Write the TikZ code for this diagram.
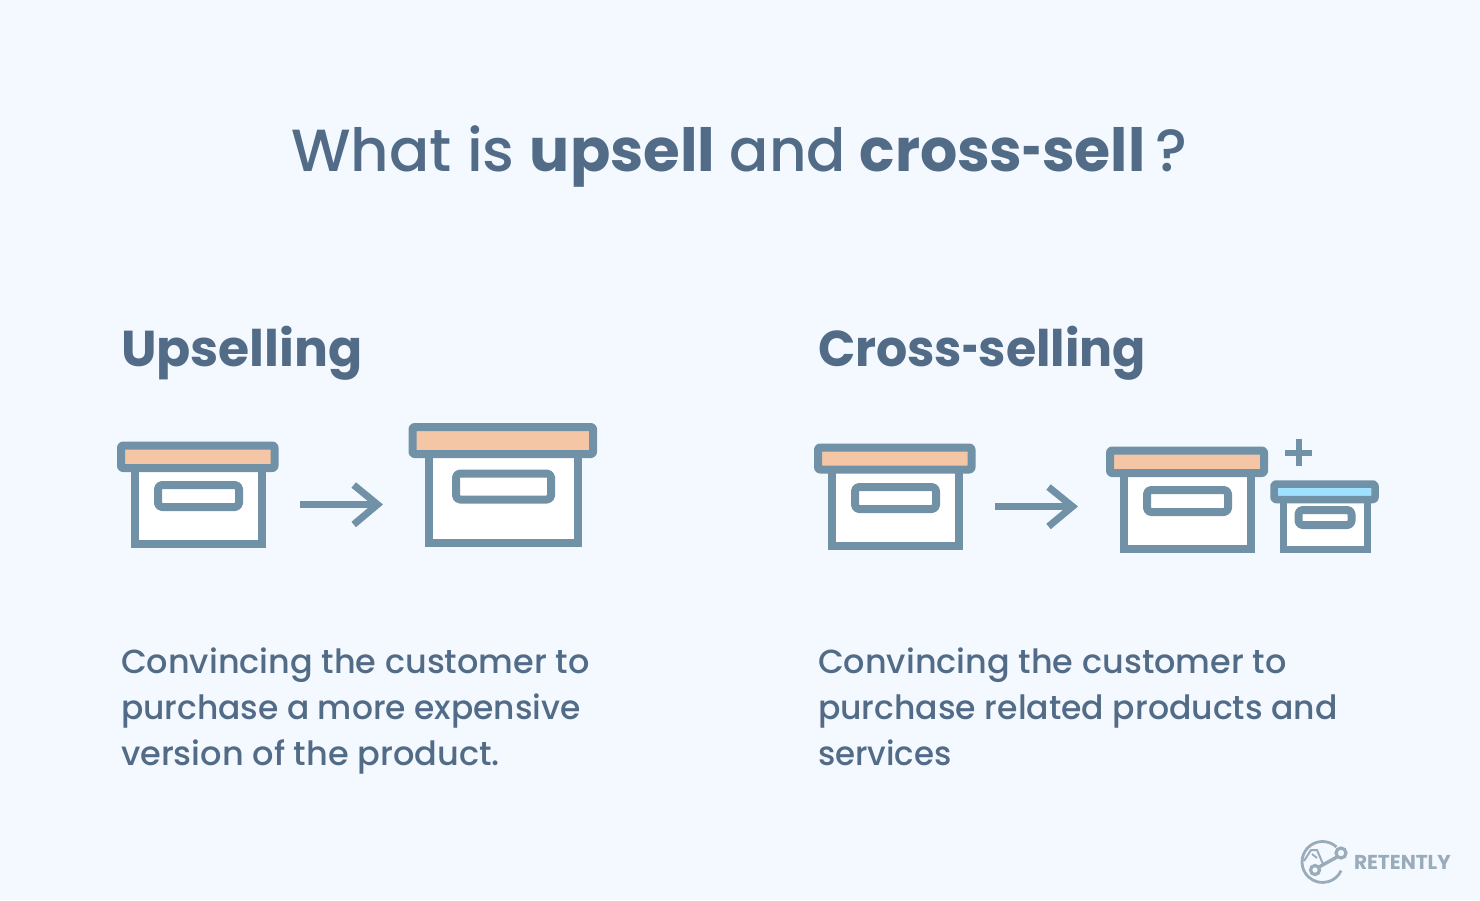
\documentclass[tikz,border=0pt]{standalone}
\usepackage{fontspec}
\setmainfont{Poppins Medium}[BoldFont=Poppins Bold]
\definecolor{bgc}{HTML}{F4F9FF}
\definecolor{ink}{HTML}{526C87}
\definecolor{strokec}{HTML}{7191A7}
\definecolor{peach}{HTML}{F4C6A6}
\definecolor{sky}{HTML}{A0E1FF}
\definecolor{logoc}{HTML}{9AABBA}
\newcommand{\shorthy}{\scalebox{0.58}[1]{-}}
\newcommand{\wide}[2]{\scalebox{#1}[1]{#2}}
\tikzset{
  part/.style={draw=strokec,line join=round,line width=#1},
  arrowline/.style={draw=strokec,line width=7pt,miter limit=10},
  txt/.style={anchor=base west,text=ink,inner sep=0pt,outer sep=0pt},
  h2/.style={txt,font=\fontsize{50.4}{50.4}\selectfont\bfseries},
  body/.style={txt,font=\fontsize{33.4}{33.4}\selectfont},
}
\newcommand{\cratebody}[5]{\draw[part=#1,fill=white,line join=miter] (#2,#3) rectangle (#4,#5);}
\newcommand{\cratelid}[6]{\draw[part=#1,fill=#2,rounded corners=2pt] (#3,#4) rectangle (#5,#6);}
\newcommand{\cratehandle}[5]{\draw[part=#1,fill=white,rounded corners=4pt] (#2,#3) rectangle (#4,#5);}
\begin{document}
\begin{tikzpicture}[x=1pt,y=-1pt]
\useasboundingbox (0,0) rectangle (1480,900);
\fill[bgc] (0,0) rectangle (1480,900);
% title
\node[txt,font=\fontsize{59.5}{60}\selectfont] (title) at (291,171) {What is \textbf{upsell}\kern-1pt\ \wide{0.975}{and}\kern-2pt\ \wide{0.983}{\textbf{cross\shorthy sell}}\kern-5pt\ ?};
% headings
\node[h2] (hup) at (121,366) {Upselling};
\node[h2] (hcross) at (818,366) {\wide{0.973}{Cross\shorthy selling}};
% descriptions
\node[body] (u1) at (121,673) {\wide{1.002}{Convincing the customer to}};
\node[body] (u2) at (121,719) {\wide{0.985}{purchase a more expensive}};
\node[body] (u3) at (121,765) {\wide{1.005}{version of the product.}};
\node[body] (c1) at (818,673) {\wide{1.002}{Convincing the customer to}};
\node[body] (c2) at (818,719) {\wide{0.99}{purchase related products and}};
\node[body] (c3) at (818,765) {\wide{0.97}{services}};
% upsell small crate
\cratebody{8pt}{135}{465}{262}{544}
\cratehandle{8pt}{158}{485}{239}{507}
\cratelid{8pt}{peach}{121}{445.5}{274.5}{468}
% upsell large crate
\cratebody{8pt}{429}{450}{578}{543}
\cratehandle{8pt}{456}{473.5}{551}{499.5}
\cratelid{8pt}{peach}{412.5}{427}{593}{454}
% cross first crate
\cratebody{8pt}{832}{467}{959}{545.5}
\cratehandle{8pt}{855}{487}{936}{509}
\cratelid{8pt}{peach}{818}{447.5}{971.5}{469.5}
% cross second crate
\cratebody{8pt}{1124}{470}{1251}{549}
\cratehandle{8pt}{1147}{490}{1228}{512}
\cratelid{8pt}{peach}{1110}{450.5}{1264}{473}
% cross small crate
\cratebody{7pt}{1283}{495}{1367}{549.5}
\cratehandle{8pt}{1298.5}{510}{1351.5}{525}
\cratelid{7.5pt}{sky}{1274}{484}{1375}{499.5}
% plus
\draw[strokec,line width=6pt] (1298.5,439) -- (1298.5,466) (1285,452.5) -- (1312,452.5);
% arrows
\coordinate (a1s) at (300,504.5); \coordinate (a1t) at (377.5,504.5);
\draw[arrowline] (a1s) -- (a1t);
\draw[arrowline] (353.7,485) -- (a1t) -- (353.7,524.5);
\coordinate (a2s) at (995,506.5); \coordinate (a2t) at (1072.5,506.5);
\draw[arrowline] (a2s) -- (a2t);
\draw[arrowline] (1048.5,487) -- (a2t) -- (1048.5,526.5);
% logo
\draw[logoc,line width=2.8pt] (1336.5,847) arc[start angle=-47,end angle=-335,radius=20.5];
\draw[logoc,line width=3.2pt] (1341,853) circle[radius=5];
\draw[logoc,line width=3.2pt] (1315,870) circle[radius=4.5];
\draw[logoc,line width=3.4pt] (1337,857) -- (1319,867);
\draw[logoc,line width=2pt,line join=round] (1304,861) -- (1311,850) -- (1317,850) -- (1323,864);
\draw[logoc,line width=1.8pt] (1312,854) -- (1317,858);
\node[txt,text=logoc,font=\fontsize{20.1}{20.1}\selectfont\bfseries] (logo) at (1354,869) {RETENTLY};
\end{tikzpicture}
\end{document}
